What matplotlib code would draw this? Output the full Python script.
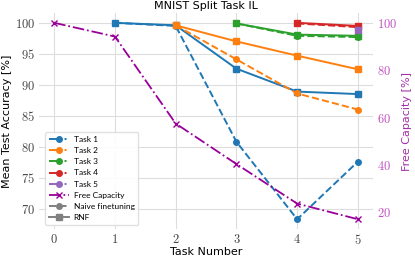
import matplotlib
matplotlib.use('Agg')
import matplotlib.pyplot as plt
from matplotlib.lines import Line2D
from matplotlib.ticker import FuncFormatter

plt.rcParams['mathtext.fontset'] = 'cm'
plt.rcParams['font.family'] = ['DejaVu Sans']

# x positions (task number)
tasks = [0, 1, 2, 3, 4, 5]

# mean test accuracy per task, RNF (solid) and naive finetuning (dashed)
task1_rnf = [100.0, 99.6, 92.6, 88.9, 88.5]
task1_naive = [100.0, 99.5, 80.8, 68.3, 77.6]
task2_rnf = [99.6, 97.0, 94.7, 92.5]
task2_naive = [99.6, 94.1, 88.6, 86.0]
task3_rnf = [99.9, 98.1, 97.9]
task3_naive = [99.9, 97.9, 97.7]
task4_rnf = [100.0, 99.5]
task4_naive = [99.9, 99.3]
task5_rnf = [98.9]
task5_naive = [98.9]

free_capacity = [100, 94.2, 57.5, 40.4, 23.7, 17.1]

colors = ['#1f77b4', '#ff7f0e', '#2ca02c', '#d62728', '#9467bd']
fc_color = '#990099'

fig = plt.figure(figsize=(4.15, 2.6), dpi=100)
ax = fig.add_axes([0.094, 0.119, 0.805, 0.831])
ax2 = ax.twinx()

rnf = [task1_rnf, task2_rnf, task3_rnf, task4_rnf, task5_rnf]
naive = [task1_naive, task2_naive, task3_naive, task4_naive, task5_naive]
for i in range(5):
    xs = tasks[i + 1:]
    ax.plot(xs, naive[i], '--', marker='o', color=colors[i], lw=1.4, ms=4)
    ax.plot(xs, rnf[i], '-', marker='s', color=colors[i], lw=1.4, ms=4)

ax2.plot(tasks, free_capacity, '-.', marker='x', color=fc_color, lw=1.3, ms=5)

# styling
for a in (ax, ax2):
    for s in a.spines.values():
        s.set_visible(False)
    a.tick_params(length=0, labelsize=9)
ax.grid(True, color='#dddddd', lw=0.8)
ax.set_axisbelow(True)
ax.set_xticks(tasks)
ax.set_yticks([70, 75, 80, 85, 90, 95, 100])
ax2.set_yticks([20, 40, 60, 80, 100])
fmt = FuncFormatter(lambda v, p: f'${v:g}$')
ax.xaxis.set_major_formatter(fmt)
ax.yaxis.set_major_formatter(fmt)
ax2.yaxis.set_major_formatter(fmt)
ax.tick_params(colors='#444444', pad=3)
ax2.tick_params(colors='#c050c0', pad=3)

ax.set_xlabel('Task Number', fontsize=8, labelpad=0)
ax.set_ylabel('Mean Test Accuracy [%]', fontsize=8, labelpad=2)
ax2.set_ylabel('Free Capacity [%]', fontsize=8, color='#a030a8', labelpad=3)
ax.set_title('MNIST Split Task IL', fontsize=8, pad=3)

handles = [Line2D([], [], ls='-.', marker='o', color=c, lw=1.4, ms=4)
           for c in colors]
handles.append(Line2D([], [], ls='-.', marker='x', color=fc_color, lw=1.3, ms=5))
handles.append(Line2D([], [], ls='--', marker='o', color='gray', lw=1.4, ms=4))
handles.append(Line2D([], [], ls='-', marker='s', color='gray', lw=1.4, ms=4))
labels = ['Task 1', 'Task 2', 'Task 3', 'Task 4', 'Task 5',
          'Free Capacity', 'Naive finetuning', 'RNF']
ax2.legend(handles, labels, loc='lower left', frameon=True,
           prop={'family': 'Lato', 'size': 6},
           edgecolor='#dddddd', framealpha=0.9, handlelength=2.4,
           handletextpad=0.6, labelspacing=0.5, borderpad=0.45,
           bbox_to_anchor=(0.005, 0.0))

fig.savefig('out.png', dpi=100)
